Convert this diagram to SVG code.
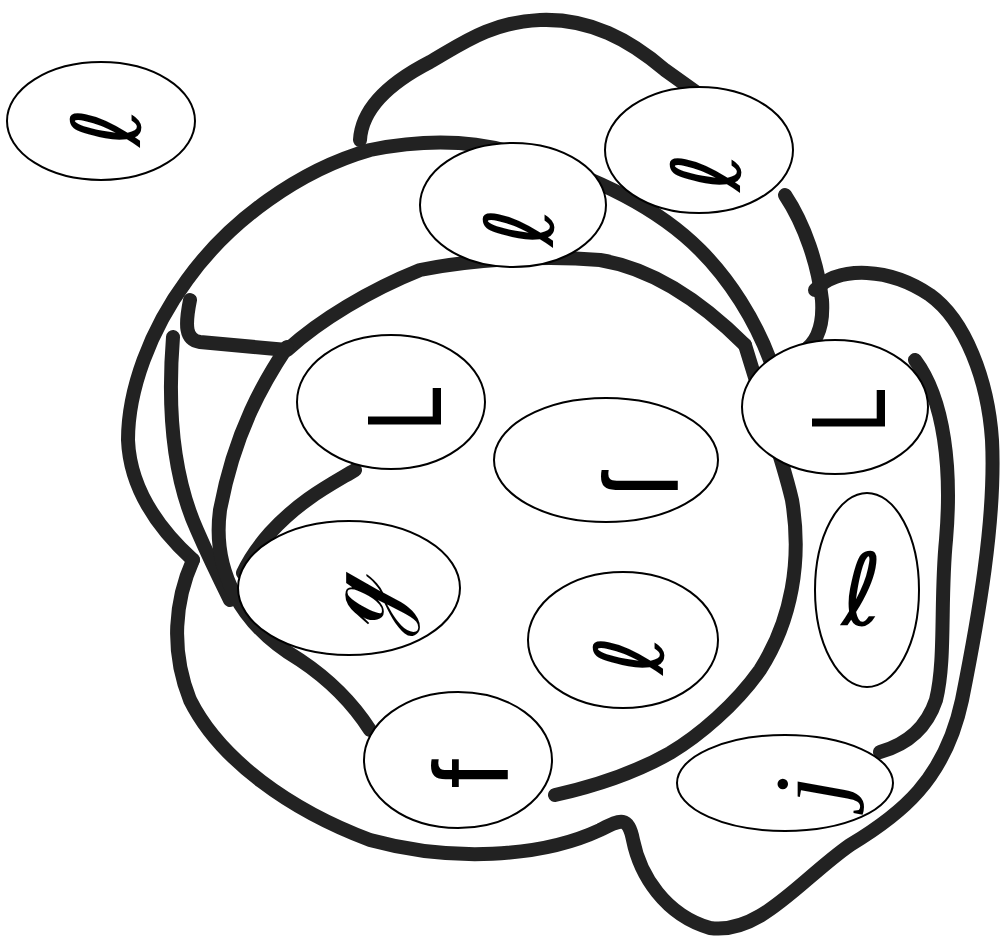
<svg xmlns="http://www.w3.org/2000/svg" width="1004" height="948" viewBox="0 0 1004 948">
<style>
.b{fill:none;stroke:#222;stroke-width:14;stroke-linecap:round;stroke-linejoin:round}
.n{fill:#fff;stroke:#000;stroke-width:2}
.g{font-family:"DejaVu Sans",sans-serif;fill:#000;text-anchor:middle}
</style>
<rect width="1004" height="948" fill="#fff"/>
<g id="connectors">
<path class="b" d="M360,140 C362,105 395,80 430,62 C460,45 490,22 540,20 C590,18 630,40 665,70 L700,95 M785,195 C805,225 818,265 822,300 C824,330 814,345 802,352"/>
<path class="b" d="M193,560 C160,530 130,490 128,440 C128,390 150,330 187,280 C230,220 300,170 370,150 C420,140 470,138 520,155 C600,178 660,210 700,250 C730,280 755,320 770,360"/>
<path class="b" d="M190,300 C185,325 185,340 200,342 L287,350 C320,320 370,290 420,270 C470,260 540,255 600,260 C650,268 700,300 745,345"/>
<path class="b" d="M173,337 C168,400 170,470 197,530 C210,560 220,580 230,600"/>
<path class="b" d="M287,347 C265,380 235,430 220,510 C212,570 240,625 300,660 C330,680 352,702 370,730 M555,795 C600,785 640,770 670,753 C700,735 735,705 760,670 C792,620 802,560 792,500 C785,470 775,440 765,410 L745,345"/>
<path class="b" d="M355,470 C330,485 300,500 270,533 C255,550 248,562 243,573"/>
<path class="b" d="M193,560 C175,600 170,650 190,700 C220,760 290,810 370,840 C450,862 540,858 600,830 C620,820 628,815 633,840 C640,875 665,915 710,928 C760,935 800,880 850,845 C900,815 945,780 962,700 C978,620 996,520 992,440 C988,380 965,320 930,295 C890,268 840,265 815,290"/>
<path class="b" d="M915,360 C945,400 952,470 946,540 C940,600 946,660 936,700 C926,730 905,745 880,752"/>
</g>
<g id="n1"><ellipse class="n" cx="101" cy="121" rx="94" ry="59"/><text class="g" font-size="95" transform="translate(107,127) rotate(-90)" dy="0.35em">ℓ</text></g>
<g id="n2"><ellipse class="n" cx="513" cy="205" rx="93" ry="62"/><text class="g" font-size="95" transform="translate(520,227) rotate(-90)" dy="0.35em">ℓ</text></g>
<g id="n3"><ellipse class="n" cx="699" cy="150" rx="94" ry="63"/><text class="g" font-size="95" transform="translate(707,172) rotate(-90)" dy="0.35em">ℓ</text></g>
<g id="n4"><ellipse class="n" cx="391" cy="402" rx="94" ry="67"/><text class="g" font-size="80" transform="translate(406,410) rotate(-90) scale(1,1.25)" dy="0.35em">L</text></g>
<g id="n5"><ellipse class="n" cx="606" cy="460" rx="112" ry="62"/><text class="g" font-size="105" style="font-family:'Liberation Sans',sans-serif;text-anchor:start" transform="translate(678,497) rotate(-90)">ſ</text></g>
<g id="n6"><ellipse class="n" cx="835" cy="407" rx="93" ry="67"/><text class="g" font-size="80" transform="translate(850,412) rotate(-90) scale(1,1.25)" dy="0.35em">L</text></g>
<g id="n7"><ellipse class="n" cx="349" cy="588" rx="111" ry="67"/><text class="g" font-size="95" transform="translate(350,600) rotate(-90)" dy="0.35em">ℊ</text></g>
<g id="n8"><ellipse class="n" cx="623" cy="640" rx="95" ry="68"/><text class="g" font-size="95" transform="translate(630,655) rotate(-90)" dy="0.35em">ℓ</text></g>
<g id="n9"><ellipse class="n" cx="867" cy="590" rx="52" ry="97"/><text class="g" font-size="100" x="862" y="590" dy="0.35em">ℓ</text></g>
<g id="n10"><ellipse class="n" cx="458" cy="760" rx="94" ry="68"/><text class="g" font-size="105" style="font-family:'Liberation Sans',sans-serif" transform="translate(471,774) rotate(-90)" dy="0.35em">f</text></g>
<g id="n11"><ellipse class="n" cx="785" cy="783" rx="108" ry="48"/><text class="g" font-size="100" font-style="italic" style="font-family:'Liberation Serif',serif" transform="translate(808,790) rotate(-90)" dy="0.35em">j</text></g>
</svg>
